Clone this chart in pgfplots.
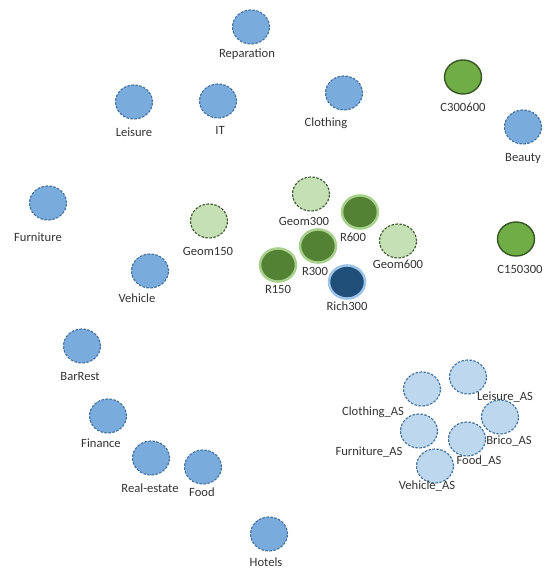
\documentclass[border=0pt]{standalone}
\usepackage{fontspec}
\setmainfont{Carlito}
\usepackage{pgfplots}
\pgfplotsset{compat=1.18}
\definecolor{blueF}{HTML}{7AABDD}
\definecolor{blueB}{HTML}{41719C}
\definecolor{lgF}{HTML}{C5E0B4}
\definecolor{lgB}{HTML}{3F5A30}
\definecolor{cF}{HTML}{70AD47}
\definecolor{cB}{HTML}{375623}
\definecolor{rF}{HTML}{548235}
\definecolor{rB}{HTML}{A9D18E}
\definecolor{richF}{HTML}{1F4E79}
\definecolor{richB}{HTML}{9DC3E6}
\definecolor{asF}{HTML}{BDD7EE}
\definecolor{txt}{HTML}{333333}
\begin{document}
\begin{tikzpicture}
\begin{axis}[hide axis, scale only axis, width=544pt, height=572pt,
  xmin=0, xmax=544, ymin=0, ymax=572, y dir=reverse, clip=false]
\draw[draw=none] (axis cs:0,0) rectangle (axis cs:544,572);
% blue categories
\addplot[only marks, mark=*, mark size=18.5pt, mark options={yscale=0.92, fill=blueF, draw=blueB, line width=1.15pt, dash pattern=on 2.5pt off 1.5pt}] coordinates {
(251,27) (134,102) (218,101) (344,93) (523,127) (48,203) (150,271) (82,346) (108,416) (151,458) (203,467) (269,534)};
% AS
\addplot[only marks, mark=*, mark size=18.5pt, mark options={yscale=0.92, fill=asF, draw=blueB, line width=1.15pt, dash pattern=on 2.5pt off 1.5pt}] coordinates {
(468,377) (422,389) (500,417) (419,431) (467,439) (435,466)};
% Geom
\addplot[only marks, mark=*, mark size=18.5pt, mark options={yscale=0.92, fill=lgF, draw=lgB, line width=1.15pt, dash pattern=on 2.5pt off 1.5pt}] coordinates {
(209,221) (311,194) (398,241)};
% C
\addplot[only marks, mark=*, mark size=18.5pt, mark options={yscale=0.92, fill=cF, draw=cB, line width=1.4pt, solid}] coordinates {
(463,77) (516,239)};
% R
\addplot[only marks, mark=*, mark size=18pt, mark options={yscale=0.92, fill=rF, draw=rB, line width=2.5pt, solid}] coordinates {
(360,212) (318,246) (278,265)};
% Rich
\addplot[only marks, mark=*, mark size=18pt, mark options={yscale=0.92, fill=richF, draw=richB, line width=2.5pt, solid}] coordinates {
(347,282)};
% labels
\addplot[draw=none, mark=none, nodes near coords, point meta=explicit symbolic,
  nodes near coords style={anchor=center, font=\fontsize{12.6}{14}\selectfont, text=txt, inner sep=0pt}] coordinates {
(247,54) [Reparation]
(134,132) [Leisure]
(220,130) [IT]
(326,123) [Clothing]
(523,158) [Beauty]
(38,237) [Furniture]
(137,298) [Vehicle]
(80,377) [BarRest]
(101,443) [Finance]
(150,488) [Real-estate]
(202,492) [Food]
(266,562) [Hotels]
(463,107) [C300600]
(520,269) [C150300]
(208,251) [Geom150]
(304,221) [Geom300]
(398,264) [Geom600]
(353,237) [R600]
(315,271) [R300]
(278,289) [R150]
(347,306) [Rich300]
(505,397) [Leisure\_AS]
(373,412) [Clothing\_AS]
(509,441) [Brico\_AS]
(369,452) [Furniture\_AS]
(479,461) [Food\_AS]
(427,486) [Vehicle\_AS]
};
\end{axis}
\end{tikzpicture}
\end{document}
